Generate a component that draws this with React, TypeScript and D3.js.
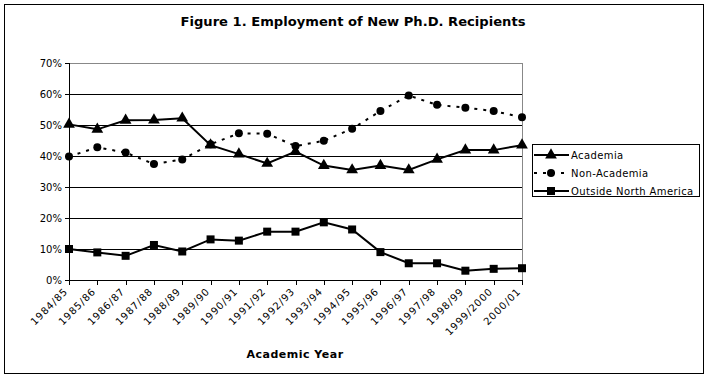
import React from "react";
import * as d3 from "d3";

const categories = ["1984/85","1985/86","1986/87","1987/88","1988/89","1989/90","1990/91","1991/92","1992/93","1993/94","1994/95","1995/96","1996/97","1997/98","1998/99","1999/2000","2000/01"];
const academia = [50.2,48.6,51.5,51.6,52.2,43.5,40.6,37.6,41.4,36.9,35.5,36.9,35.5,38.9,41.9,41.9,43.5];
const nonAcademia = [39.8,42.8,41.1,37.4,38.9,43.8,47.3,47.2,43.2,44.9,48.8,54.5,59.5,56.5,55.6,54.5,52.5];
const outsideNA = [10.0,8.9,7.8,11.3,9.2,13.1,12.7,15.6,15.6,18.6,16.3,9.0,5.4,5.4,3.0,3.6,3.8];
const yTicks = [0,10,20,30,40,50,60,70];
const seriesNames = ["Academia","Non-Academia","Outside North America"];

const W = 706, H = 378;
const left = 69, right = 522, top = 63, bottom = 280;
const font = "DejaVu Sans, Verdana, sans-serif";

function Marker({ kind, x, y }: { kind: string; x: number; y: number }) {
  if (kind === "triangle") {
    const s = d3.symbol(d3.symbolTriangle, 60)();
    return <path d={s as string} transform={`translate(${x},${y})`} fill="#000" />;
  }
  if (kind === "circle") return <circle cx={x} cy={y} r={4} fill="#000" />;
  return <rect x={x - 4} y={y - 4} width={8} height={8} fill="#000" />;
}

export default function App() {
  const x = d3.scalePoint<string>().domain(categories).range([left, right]);
  const y = d3.scaleLinear().domain([0, 70]).range([bottom, top]);
  const line = d3.line<number>().x((_, i) => x(categories[i]) as number).y((d) => y(d));
  const series = [
    { name: seriesNames[0], data: academia, kind: "triangle", dash: undefined as string | undefined },
    { name: seriesNames[1], data: nonAcademia, kind: "circle", dash: "3,6" },
    { name: seriesNames[2], data: outsideNA, kind: "square", dash: undefined },
  ];
  return (
    <svg width={W} height={H} style={{ position: "absolute", left: 0, top: 0, background: "#fff" }} fontFamily={font}>
      <rect x={4.5} y={4.5} width={699} height={369} fill="#fff" stroke="#000" strokeWidth={1} />
      <text x={353} y={26} textAnchor="middle" fontSize={13} fontWeight="600" textLength={345} lengthAdjust="spacingAndGlyphs">Figure 1. Employment of New Ph.D. Recipients</text>
      {/* plot border */}
      <line x1={left} x2={right} y1={top + 0.5} y2={top + 0.5} stroke="#888" />
      <line x1={right + 0.5} x2={right + 0.5} y1={top} y2={bottom} stroke="#888" />
      {yTicks.filter((t) => t > 0 && t < 70).map((t) => (
        <line key={t} x1={left} x2={right} y1={Math.round(y(t)) + 0.5} y2={Math.round(y(t)) + 0.5} stroke="#000" />
      ))}
      {yTicks.map((t) => (
        <g key={"yl" + t}>
          <line x1={left - 4} x2={left} y1={Math.round(y(t)) + 0.5} y2={Math.round(y(t)) + 0.5} stroke="#000" />
          <text x={left - 7} y={y(t) + 4} textAnchor="end" fontSize={10}>{t}%</text>
        </g>
      ))}
      <line x1={left + 0.5} x2={left + 0.5} y1={top} y2={bottom} stroke="#000" />
      <line x1={left} x2={right} y1={bottom + 0.5} y2={bottom + 0.5} stroke="#000" />
      {categories.map((c) => {
        const xx = Math.round(x(c) as number) + 0.5;
        return (
          <g key={c}>
            <line x1={xx} x2={xx} y1={bottom} y2={bottom + 5} stroke="#000" />
            <text transform={`translate(${xx - 1},${bottom + 12}) rotate(-45)`} textAnchor="end" fontSize={10} letterSpacing={0.9}>{c}</text>
          </g>
        );
      })}
      <text x={295} y={358} textAnchor="middle" fontSize={11} fontWeight="bold" letterSpacing={0.5}>Academic Year</text>
      {series.map((s) => (
        <g key={s.name}>
          <path d={line(s.data) as string} fill="none" stroke="#000" strokeWidth={2} strokeDasharray={s.dash} />
          {s.data.map((v, i) => (
            <Marker key={i} kind={s.kind} x={x(categories[i]) as number} y={y(v)} />
          ))}
        </g>
      ))}
      {/* legend */}
      <rect x={532.5} y={144.5} width={167} height={52} fill="#fff" stroke="#000" />
      {series.map((s, i) => {
        const ly = 155 + i * 18;
        return (
          <g key={"lg" + s.name}>
            <line x1={534} x2={569} y1={ly} y2={ly} stroke="#000" strokeWidth={2} strokeDasharray={s.dash} />
            <Marker kind={s.kind} x={551} y={ly} />
            <text x={571} y={ly + 4} fontSize={10} letterSpacing={0.4}>{s.name}</text>
          </g>
        );
      })}
    </svg>
  );
}
